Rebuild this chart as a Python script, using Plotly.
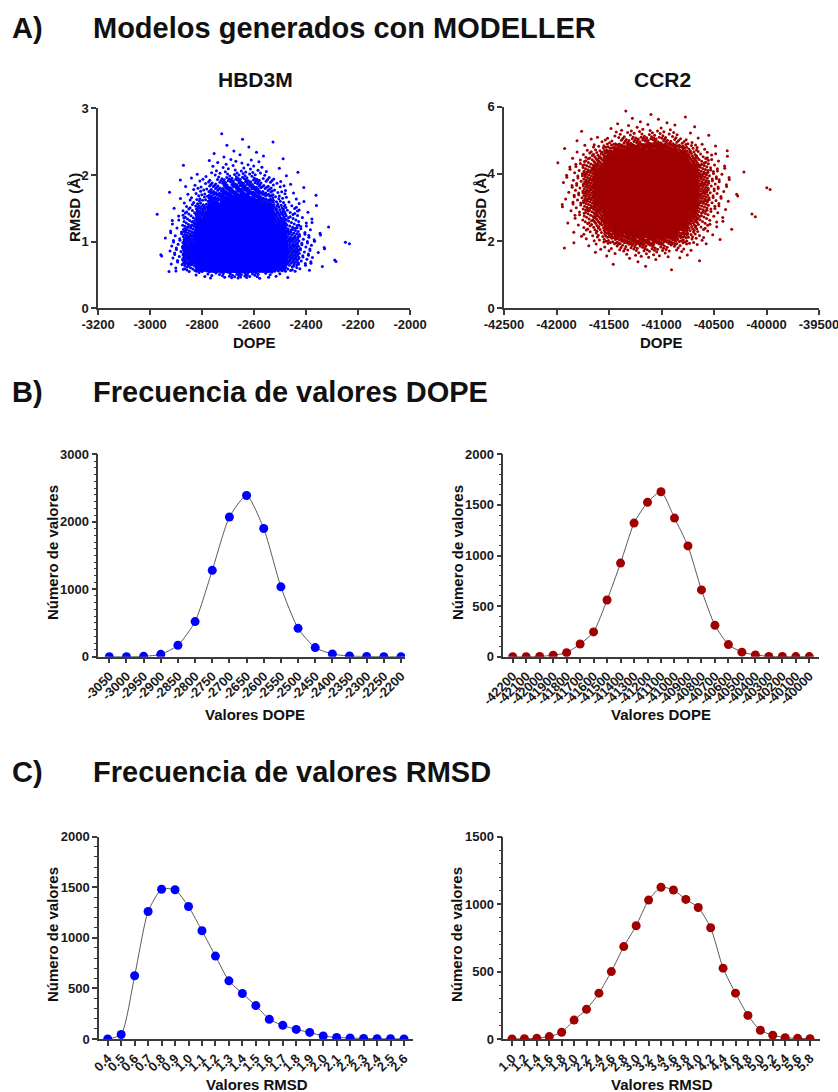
import numpy as np
import plotly.graph_objects as go

W, H = 838, 1092
FONT = "Arial, Liberation Sans, Helvetica, sans-serif"
BLUE = "#0000FF"
RED = "#A00000"
AXC = "#3a3a3a"

# ---------------- data ----------------
# B) DOPE frequency
hbd_dope_labels = ["-3050", "-3000", "-2950", "-2900", "-2850", "-2800", "-2750", "-2700", "-2650",
                   "-2600", "-2550", "-2500", "-2450", "-2400", "-2350", "-2300", "-2250", "-2200"]
hbd_dope_counts = [0, 1, 5, 35, 170, 520, 1280, 2070, 2390, 1900, 1035, 420, 135, 40, 10, 3, 1, 0]

ccr_dope_labels = ["-42200", "-42100", "-42000", "-41900", "-41800", "-41700", "-41600", "-41500",
                   "-41400", "-41300", "-41200", "-41100", "-41000", "-40900", "-40800", "-40700",
                   "-40600", "-40500", "-40400", "-40300", "-40200", "-40100", "-40000"]
ccr_dope_counts = [0, 0, 2, 15, 40, 125, 245, 560, 925, 1320, 1525, 1630, 1370, 1095, 660, 310,
                   120, 45, 18, 3, 2, 1, 1]

# C) RMSD frequency
hbd_rmsd_labels = ["0.4", "0.5", "0.6", "0.7", "0.8", "0.9", "1.0", "1.1", "1.2", "1.3", "1.4", "1.5",
                   "1.6", "1.7", "1.8", "1.9", "2.0", "2.1", "2.2", "2.3", "2.4", "2.5", "2.6"]
hbd_rmsd_counts = [0, 45, 625, 1260, 1480, 1475, 1310, 1070, 820, 575, 450, 330, 195, 135, 95, 65,
                   30, 15, 10, 5, 3, 2, 1]

ccr_rmsd_labels = ["1.0", "1.2", "1.4", "1.6", "1.8", "2.0", "2.2", "2.4", "2.6", "2.8", "3.0", "3.2",
                   "3.4", "3.6", "3.8", "4.0", "4.2", "4.4", "4.6", "4.8", "5.0", "5.2", "5.4", "5.6", "5.8"]
ccr_rmsd_counts = [0, 2, 5, 18, 50, 140, 220, 340, 500, 685, 840, 1030, 1125, 1105, 1035, 975, 825,
                   525, 340, 175, 65, 28, 10, 5, 2]

# A) scatter axis ticks
hbd_scatter_xticks = [-3200, -3000, -2800, -2600, -2400, -2200, -2000]
hbd_scatter_yticks = [0, 1, 2, 3]
ccr_scatter_xticks = [-42500, -42000, -41500, -41000, -40500, -40000, -39500]
ccr_scatter_yticks = [0, 2, 4, 6]

# A) scatter: individual models cannot be read one by one; the cloud is built from the
# read DOPE / RMSD frequency tables above (same 10000 models), deterministic placement.
hbd_dope_bin = 50
hbd_rmsd_bin = 0.1
ccr_dope_bin = 100
ccr_rmsd_bin = 0.2


def from_table(labels, counts, width, u):
    centers = np.array([float(s) for s in labels])
    c = np.array(counts, dtype=float)
    cum = np.concatenate([[0.0], np.cumsum(c)]) / c.sum()
    idx = np.clip(np.searchsorted(cum, u, side="right") - 1, 0, len(c) - 1)
    share = np.where(c[idx] > 0, c[idx] / c.sum(), 1.0)
    frac = np.clip((u - cum[idx]) / share, 0, 1)
    return centers[idx] - width / 2 + frac * width


def cloud(dl, dc, dw, rl, rc, rw):
    n = int(round(sum(dc)))
    g = 1.32471795724474602596
    k = np.arange(1, n + 1)
    u = np.mod(0.5 + k / g, 1.0)
    v = np.mod(0.5 + k / g ** 2, 1.0)
    return from_table(dl, dc, dw, u), from_table(rl, rc, rw, v)


hbd_x, hbd_y = cloud(hbd_dope_labels, hbd_dope_counts, hbd_dope_bin,
                     hbd_rmsd_labels, hbd_rmsd_counts, hbd_rmsd_bin)
ccr_x, ccr_y = cloud(ccr_dope_labels, ccr_dope_counts, ccr_dope_bin,
                     ccr_rmsd_labels, ccr_rmsd_counts, ccr_rmsd_bin)


# ---------------- layout helpers (pixel -> paper) ----------------
def px(x):
    return x / W


def py(y):
    return 1 - y / H


fig = go.Figure()

tickfont = dict(family=FONT, size=13, color="#1a1a1a", weight="bold")


def axis_common():
    return dict(showline=True, linecolor=AXC, linewidth=1.5, ticks="outside", tickcolor=AXC,
                tickwidth=1.5, ticklen=5, showgrid=False, zeroline=False, tickfont=tickfont,
                fixedrange=True, automargin=False, ticklabeloverflow="allow")


fig.add_trace(go.Scatter(x=hbd_x, y=hbd_y, mode="markers", xaxis="x", yaxis="y",
                         marker=dict(color=BLUE, size=3, line=dict(width=0))))
fig.add_trace(go.Scatter(x=ccr_x, y=ccr_y, mode="markers", xaxis="x2", yaxis="y2",
                         marker=dict(color=RED, size=3, line=dict(width=0))))


def line_trace(counts, color, xa, ya):
    return go.Scatter(x=list(range(len(counts))), y=counts, mode="lines+markers",
                      xaxis=xa, yaxis=ya,
                      line=dict(color="#5a5a5a", width=1, shape="spline", smoothing=0.6),
                      marker=dict(color=color, size=9, line=dict(width=0)))


fig.add_trace(line_trace(hbd_dope_counts, BLUE, "x3", "y3"))
fig.add_trace(line_trace(ccr_dope_counts, RED, "x4", "y4"))
fig.add_trace(line_trace(hbd_rmsd_counts, BLUE, "x5", "y5"))
fig.add_trace(line_trace(ccr_rmsd_counts, RED, "x6", "y6"))

lay = dict(template="none", width=W, height=H, autosize=False,
           margin=dict(l=0, r=0, t=0, b=0, pad=0),
           paper_bgcolor="white", plot_bgcolor="white", showlegend=False,
           font=dict(family=FONT, color="#111"))


def num_axis(ticks, x0, x1, anchor, standoff=0):
    return dict(axis_common(), domain=[x0, x1], range=[ticks[0], ticks[-1]],
                tickmode="array", tickvals=ticks, ticktext=[str(t) for t in ticks], anchor=anchor,
                ticklabelstandoff=standoff)


lay["xaxis"] = num_axis(hbd_scatter_xticks, px(98), px(410), "y", -2)
lay["yaxis"] = num_axis(hbd_scatter_yticks, py(308.3), py(108.3), "x")
lay["xaxis2"] = num_axis(ccr_scatter_xticks, px(504), px(819), "y2", -2)
lay["yaxis2"] = num_axis(ccr_scatter_yticks, py(308.3), py(106.7), "x2")


def cat_axis(labels, x0, x1, first_px, last_px, anchor):
    n = len(labels)
    step = (last_px - first_px) / (n - 1)
    r0 = (x0 - first_px) / step
    r1 = (x1 - first_px) / step
    return dict(axis_common(), domain=[px(x0), px(x1)], range=[r0, r1],
                tickmode="array", tickvals=list(range(n)), ticktext=labels, tickangle=-45,
                anchor=anchor)


def cnt_axis(top, dtick, y0, y1, anchor):
    return dict(axis_common(), domain=[py(y1), py(y0)], range=[0, top], dtick=dtick,
                tickformat="d",
                minor=dict(dtick=100, ticks="outside", ticklen=3, tickcolor=AXC, tickwidth=1.2),
                anchor=anchor)


lay["xaxis3"] = cat_axis(hbd_dope_labels, 98.3, 405, 109.3, 401, "y3")
lay["yaxis3"] = cnt_axis(3000, 1000, 454.3, 656.7, "x3")
lay["xaxis4"] = cat_axis(ccr_dope_labels, 503.3, 819, 512.7, 809.3, "y4")
lay["yaxis4"] = cnt_axis(2000, 500, 454.3, 656.7, "x4")
lay["xaxis5"] = cat_axis(hbd_rmsd_labels, 99, 412.7, 107.7, 404, "y5")
lay["yaxis5"] = cnt_axis(2000, 500, 836.7, 1039, "x5")
lay["xaxis6"] = cat_axis(ccr_rmsd_labels, 503.3, 820, 512, 810, "y6")
lay["yaxis6"] = cnt_axis(1500, 500, 836.7, 1039, "x6")

fig.update_layout(**lay)


def ann(text, x, y, size, angle=0, xanchor="center"):
    fig.add_annotation(text=text, x=px(x), y=py(y), xref="paper", yref="paper",
                       showarrow=False, textangle=angle, xanchor=xanchor, yanchor="middle",
                       font=dict(family=FONT, size=size, color="#111", weight="bold"))


# section headings
ann("A)", 10, 28, 29, xanchor="left")
ann("Modelos generados con MODELLER", 91, 28, 29, xanchor="left")
ann("B)", 10, 392, 29, xanchor="left")
ann("Frecuencia de valores DOPE", 91, 392, 29, xanchor="left")
ann("C)", 10, 772, 29, xanchor="left")
ann("Frecuencia de valores RMSD", 91, 772, 29, xanchor="left")

# panel titles
ann("HBD3M", 255, 80, 21)
ann("CCR2", 662, 80, 21)

# axis titles
ann("DOPE", 254, 342, 15)
ann("DOPE", 661, 342, 15)
ann("RMSD (Å)", 74, 208, 15, angle=-90)
ann("RMSD (Å)", 480, 208, 15, angle=-90)

ann("Número de valores", 52, 553, 15, angle=-90)
ann("Número de valores", 457, 553, 15, angle=-90)
ann("Valores DOPE", 255, 714, 15)
ann("Valores DOPE", 661, 714, 15)

ann("Número de valores", 52, 935, 15, angle=-90)
ann("Número de valores", 456, 935, 15, angle=-90)
ann("Valores RMSD", 257, 1084, 15)
ann("Valores RMSD", 662, 1084, 15)

fig.write_html("out.html", config={"displayModeBar": False},
               post_script="document.body.style.margin='0px';")
